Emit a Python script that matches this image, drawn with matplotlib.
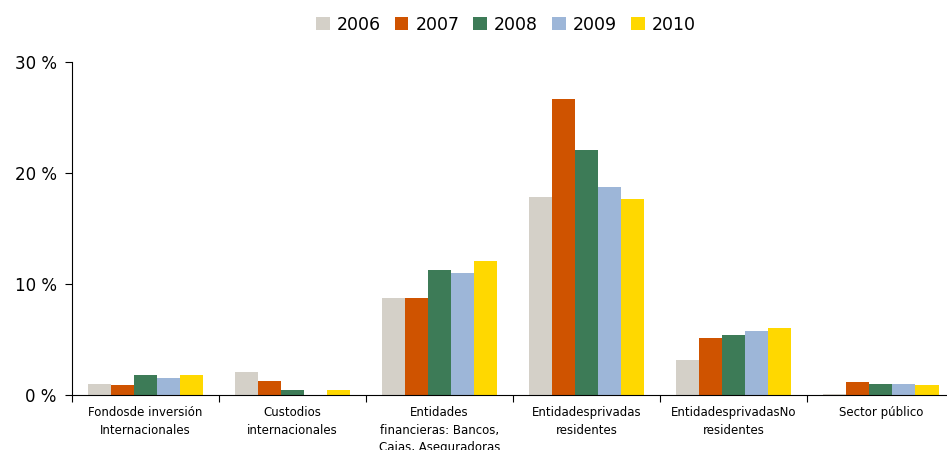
import numpy as np
import matplotlib.pyplot as plt

categories = ["Fondosde inversión\nInternacionales",
              "Custodios\ninternacionales",
              "Entidades\nfinancieras: Bancos,\nCajas, Aseguradoras",
              "Entidadesprivadas\nresidentes",
              "EntidadesprivadasNo\nresidentes",
              "Sector público"]
years = ["2006", "2007", "2008", "2009", "2010"]
v2006 = [1.0, 2.1, 8.7, 17.8, 3.15, 0.1]
v2007 = [0.9, 1.25, 8.7, 26.7, 5.1, 1.2]
v2008 = [1.8, 0.45, 11.3, 22.1, 5.4, 1.0]
v2009 = [1.5, 0.0, 11.0, 18.7, 5.8, 1.0]
v2010 = [1.8, 0.45, 12.1, 17.7, 6.0, 0.9]
colors = ["#D4D0C8", "#CF5300", "#3D7B57", "#9DB6D8", "#FFD800"]

series = [v2006, v2007, v2008, v2009, v2010]

fig = plt.figure(figsize=(9.47, 4.5), dpi=100)
ax = fig.add_axes([72 / 947, 1 - 395 / 450, 875 / 947, (395 - 62) / 450])

x = np.arange(len(categories))
w = 0.157
for i, (vals, yr, c) in enumerate(zip(series, years, colors)):
    ax.bar(x + (i - 2) * w, vals, w, color=c, label=yr)

ax.set_xlim(-0.5, 5.45)
ax.set_ylim(0, 30)
ax.set_yticks([0, 10, 20, 30])
ax.set_yticklabels(["0 %", "10 %", "20 %", "30 %"], fontsize=12)
ax.set_xticks(np.arange(-0.5, 5.5, 1))
ax.set_xticklabels([])
ax.set_xticks(x, minor=True)
ax.set_xticklabels(categories, minor=True, fontsize=8.5, linespacing=1.45)
ax.tick_params(axis="x", which="minor", length=0, pad=8)
ax.tick_params(axis="x", which="major", length=5, direction="out")
ax.tick_params(axis="y", length=5, direction="out", pad=6)
for s in ["top", "right"]:
    ax.spines[s].set_visible(False)

fig.legend(loc="center", bbox_to_anchor=(0.534, 0.945), ncol=5, frameon=False,
           fontsize=12.5, handlelength=0.8, handleheight=0.8, handletextpad=0.4,
           columnspacing=0.8)

fig.savefig("out.png", dpi=100)
